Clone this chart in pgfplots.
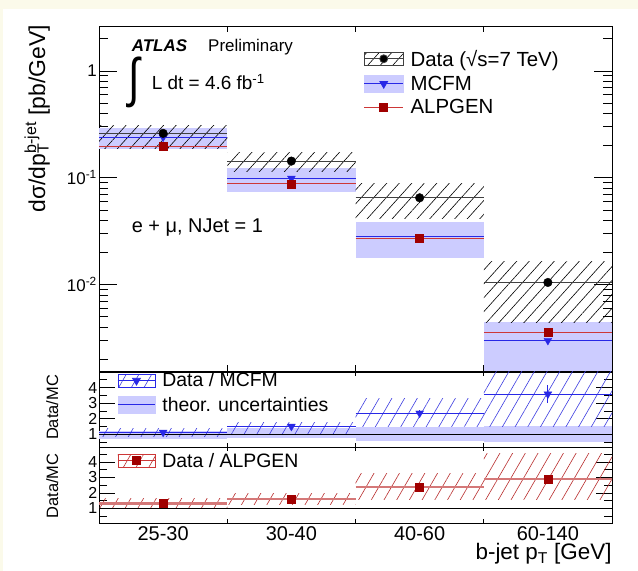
\documentclass[border=0pt]{standalone}
\usepackage{pgfplots}
\pgfplotsset{compat=1.18}
\usetikzlibrary{patterns.meta}
\usepackage{fontspec}
\setmainfont{Liberation Sans}

\definecolor{cream}{RGB}{251,250,234}
\definecolor{band}{RGB}{204,204,255}
\definecolor{mcblue}{RGB}{40,40,230}
\definecolor{alpred}{RGB}{205,55,55}
\definecolor{sqred}{RGB}{160,0,0}
\definecolor{hatchblue}{RGB}{60,60,225}
\definecolor{hatchred}{RGB}{185,45,45}
\definecolor{redband}{RGB}{212,120,120}

\pgfplotsset{
  hatchk/.style={draw=none, pattern={Lines[angle=48,distance=9.3bp,line width=0.6bp]}, pattern color=black},
  hatchb/.style={draw=none, pattern={Lines[angle=60,distance=11bp,line width=0.6bp]}, pattern color=hatchblue},
  hatchr/.style={draw=none, pattern={Lines[angle=60,distance=11bp,line width=0.6bp]}, pattern color=hatchred},
  legdata/.style={legend image code/.code={%
    \fill[pattern={Lines[angle=48,distance=9.3bp,line width=0.6bp]},pattern color=black] (0bp,-6.5bp) rectangle (39bp,6.5bp);
    \draw[##1,mark=none] (0bp,0bp) -- (39bp,0bp);
    \draw[##1,mark repeat=2,mark phase=2] plot coordinates {(0bp,0bp)(19.5bp,0bp)(39bp,0bp)};}},
  legmcfm/.style={legend image code/.code={%
    \fill[band] (0bp,-8.5bp) rectangle (39bp,8.5bp);
    \draw[##1,mark=none] (0bp,0bp) -- (39bp,0bp);
    \draw[##1,mark repeat=2,mark phase=2] plot coordinates {(0bp,0bp)(19.5bp,0bp)(39bp,0bp)};}},
  legline/.style={legend image code/.code={%
    \draw[##1,mark=none] (0bp,0bp) -- (39bp,0bp);
    \draw[##1,mark repeat=2,mark phase=2] plot coordinates {(0bp,0bp)(19.5bp,0bp)(39bp,0bp)};}},
  legrb/.style={legend image code/.code={%
    \fill[pattern={Lines[angle=60,distance=11bp,line width=0.6bp]},pattern color=hatchblue] (0bp,-6.5bp) rectangle (37bp,6.5bp);
    \draw[##1,mark=none] (0bp,0bp) -- (37bp,0bp);
    \draw[##1,mark repeat=2,mark phase=2] plot coordinates {(0bp,0bp)(18.5bp,0bp)(37bp,0bp)};}},
  legrr/.style={legend image code/.code={%
    \fill[pattern={Lines[angle=60,distance=11bp,line width=0.6bp]},pattern color=hatchred] (0bp,-6.5bp) rectangle (37bp,6.5bp);
    \draw[##1,mark=none] (0bp,0bp) -- (37bp,0bp);
    \draw[##1,mark repeat=2,mark phase=2] plot coordinates {(0bp,0bp)(18.5bp,0bp)(37bp,0bp)};}},
  legtheo/.style={legend image code/.code={%
    \fill[band] (0bp,-8.5bp) rectangle (37bp,8.5bp);
    \draw[##1] (0bp,0bp) -- (37bp,0bp);}},
  common/.style={
    scale only axis, anchor=south west, width=513bp,
    xmin=-0.5, xmax=3.5,
    tick align=inside,
    tick style={black, line width=0.6bp},
    axis line style={line width=0.8bp},
    unbounded coords=jump,
    /pgf/number format/assume math mode=true,
  },
}

\begin{document}
\begin{tikzpicture}[x=1bp,y=1bp]
\useasboundingbox (0,0) rectangle (638,571);
\fill[cream] (0,0) rectangle (638,571);
\fill[white] (3,0) rectangle (638,562);

% ---------------- main panel ----------------
\begin{axis}[common,
  at={(99bp,200bp)}, height=344.5bp,
  ymode=log, ymin=1.55e-3, ymax=2.6,
  xtick={0.5,1.5,2.5}, xticklabels={},
  xtick style={/pgfplots/major tick length=6bp},
  ytick={0.01,0.1,1},
  yticklabels={10\textsuperscript{-2},10\textsuperscript{-1},1},
  minor ytick={0.002,0.003,0.004,0.005,0.006,0.007,0.008,0.009,0.02,0.03,0.04,0.05,0.06,0.07,0.08,0.09,0.2,0.3,0.4,0.5,0.6,0.7,0.8,0.9,2},
  ytick style={/pgfplots/major tick length=18bp,/pgfplots/minor tick length=9bp},
  yticklabel style={font=\fontsize{17}{20}\selectfont, inner sep=2bp},
  legend style={draw=none, fill=none, at={(rel axis cs:0.51,0.944)}, anchor=north west,
    font=\fontsize{20.5}{24}\selectfont, row sep=4.2bp,
    /tikz/every odd column/.append style={column sep=5bp}},
  legend cell align=left,
]
% MCFM band
\addplot[fill=band, draw=none, forget plot] coordinates {(-0.5,0.184)(0.5,0.184)(0.5,0.29)(-0.5,0.29)} -- cycle;
\addplot[fill=band, draw=none, forget plot] coordinates {(0.5,0.0728)(1.5,0.0728)(1.5,0.124)(0.5,0.124)} -- cycle;
\addplot[fill=band, draw=none, forget plot] coordinates {(1.5,0.0177)(2.5,0.0177)(2.5,0.0383)(1.5,0.0383)} -- cycle;
\addplot[fill=band, draw=none, forget plot] coordinates {(2.5,0.0008)(3.5,0.0008)(3.5,0.00449)(2.5,0.00449)} -- cycle;
% data hatch
\addplot[hatchk, forget plot] coordinates {(-0.5,0.188)(0.5,0.188)(0.5,0.311)(-0.5,0.311)} -- cycle;
\addplot[hatchk, forget plot] coordinates {(0.5,0.115)(1.5,0.115)(1.5,0.171)(0.5,0.171)} -- cycle;
\addplot[hatchk, forget plot] coordinates {(1.5,0.0415)(2.5,0.0415)(2.5,0.0883)(1.5,0.0883)} -- cycle;
\addplot[hatchk, forget plot] coordinates {(2.5,0.00445)(3.5,0.00445)(3.5,0.01626)(2.5,0.01626)} -- cycle;
% lines
\addplot[mcblue, line width=0.8bp, forget plot] coordinates {(-0.5,0.239)(0.5,0.239)(0.5,nan)(0.5,0.0985)(1.5,0.0985)(1.5,nan)(1.5,0.0279)(2.5,0.0279)(2.5,nan)(2.5,0.00299)(3.5,0.00299)};
\addplot[alpred, line width=0.8bp, forget plot] coordinates {(-0.5,0.197)(0.5,0.197)(0.5,nan)(0.5,0.0877)(1.5,0.0877)(1.5,nan)(1.5,0.0271)(2.5,0.0271)(2.5,nan)(2.5,0.00356)(3.5,0.00356)};
\addplot[black!75, line width=0.8bp, forget plot] coordinates {(-0.5,0.26)(0.5,0.26)(0.5,nan)(0.5,0.143)(1.5,0.143)(1.5,nan)(1.5,0.0648)(2.5,0.0648)(2.5,nan)(2.5,0.01045)(3.5,0.01045)};
% markers
\addplot[only marks, mark=triangle*, mark size=4.5bp, mark options={rotate=180, fill=mcblue, draw=mcblue}, forget plot] coordinates {(0,0.239)(1,0.0985)(2,0.0279)(3,0.00299)};
\addplot[only marks, mark=square*, mark size=4bp, mark options={fill=sqred, draw=sqred}, forget plot] coordinates {(0,0.197)(1,0.0877)(2,0.0271)(3,0.00356)};
\addplot[only marks, mark=*, mark size=4.3bp, mark options={fill=black, draw=black}, forget plot] coordinates {(0,0.26)(1,0.143)(2,0.0648)(3,0.01045)};
% legend
\addlegendimage{legdata, black!75, line width=0.8bp, mark=*, mark size=4bp, mark options={fill=black}}
\addlegendentry{Data (√s=7 TeV)}
\addlegendimage{legmcfm, mcblue, line width=0.8bp, mark=triangle*, mark size=4.5bp, mark options={rotate=180, fill=mcblue}}
\addlegendentry{MCFM}
\addlegendimage{legline, alpred, line width=0.8bp, mark=square*, mark size=4bp, mark options={fill=sqred, draw=sqred}}
\addlegendentry{ALPGEN}
\end{axis}

% ---------------- ratio Data/MCFM ----------------
\begin{axis}[common,
  at={(99bp,123.7bp)}, height=75.3bp,
  ymin=0.16, ymax=5.0,
  xtick={0.5,1.5,2.5}, xticklabels={},
  xtick style={/pgfplots/major tick length=4bp},
  ytick={1,2,3,4}, minor ytick={0.5,1.5,2.5,3.5,4.5},
  ytick style={/pgfplots/major tick length=16bp,/pgfplots/minor tick length=8bp},
  yticklabel style={font=\fontsize{16}{19}\selectfont, inner sep=1.5bp},
  legend style={draw=none, fill=none, at={(rel axis cs:0.03,1.045)}, anchor=north west,
    font=\fontsize{19.5}{23}\selectfont, row sep=4.6bp,
    /tikz/every odd column/.append style={column sep=5bp}},
  legend cell align=left,
]
\addplot[fill=band, draw=none, forget plot] coordinates {(-0.5,0.72)(0.5,0.72)(0.5,1.21)(-0.5,1.21)} -- cycle;
\addplot[fill=band, draw=none, forget plot] coordinates {(0.5,0.75)(1.5,0.75)(1.5,1.39)(0.5,1.39)} -- cycle;
\addplot[fill=band, draw=none, forget plot] coordinates {(1.5,0.57)(2.5,0.57)(2.5,1.49)(1.5,1.49)} -- cycle;
\addplot[fill=band, draw=none, forget plot] coordinates {(2.5,0.48)(3.5,0.48)(3.5,1.56)(2.5,1.56)} -- cycle;
\addplot[hatchb, forget plot] coordinates {(-0.5,0.84)(0.5,0.84)(0.5,1.39)(-0.5,1.39)} -- cycle;
\addplot[hatchb, forget plot] coordinates {(0.5,1.0)(1.5,1.0)(1.5,1.77)(0.5,1.77)} -- cycle;
\addplot[hatchb, forget plot] coordinates {(1.5,1.49)(2.5,1.49)(2.5,3.32)(1.5,3.32)} -- cycle;
\addplot[hatchb, forget plot] coordinates {(2.5,1.49)(3.5,1.49)(3.5,6)(2.5,6)} -- cycle;
\addplot[black, line width=0.7bp, forget plot] coordinates {(-0.5,1)(3.5,1)};
\addplot[mcblue, line width=0.8bp, forget plot] coordinates {(-0.5,1.12)(0.5,1.12)(0.5,nan)(0.5,1.5)(1.5,1.5)(1.5,nan)(1.5,2.35)(2.5,2.35)(2.5,nan)(2.5,3.58)(3.5,3.58)};
\addplot[forget plot, only marks, mark=triangle*, mark size=4.5bp, mark options={rotate=180, fill=mcblue, draw=mcblue}, mcblue,
  error bars/.cd, y dir=both, y explicit, error bar style={mcblue, line width=0.8bp}, error mark=none]
  coordinates {(0,1.12)+-(0,0.05)(1,1.5)+-(0,0.08)(2,2.35)+-(0,0.2)(3,3.58)+-(0,0.6)};
\addlegendimage{legrb, mcblue, line width=0.8bp, mark=triangle*, mark size=4.5bp, mark options={rotate=180, fill=mcblue}}
\addlegendentry{Data / MCFM}
\addlegendimage{legtheo, mcblue, line width=0.8bp}
\addlegendentry{theor. uncertainties}
\end{axis}

% ---------------- ratio Data/ALPGEN ----------------
\begin{axis}[common,
  at={(99bp,47.7bp)}, height=76bp,
  ymin=0.03, ymax=4.94,
  xtick={0,1,2,3}, xticklabels={25-30,30-40,40-60,60-140},
  xtick style={/pgfplots/major tick length=0bp, /pgfplots/minor tick length=4bp},
  minor xtick={0.5,1.5,2.5},
  xticklabel style={font=\fontsize{20}{24}\selectfont, inner sep=1bp, yshift=-2bp},
  ytick={1,2,3,4}, minor ytick={0.5,1.5,2.5,3.5,4.5},
  ytick style={/pgfplots/major tick length=16bp,/pgfplots/minor tick length=8bp},
  yticklabel style={font=\fontsize{16}{19}\selectfont, inner sep=1.5bp},
  legend style={draw=none, fill=none, at={(rel axis cs:0.03,0.98)}, anchor=north west,
    font=\fontsize{19.5}{23}\selectfont, row sep=0bp,
    /tikz/every odd column/.append style={column sep=5bp}},
  legend cell align=left,
]
\addplot[hatchr, forget plot] coordinates {(-0.5,1.0)(0.5,1.0)(0.5,1.65)(-0.5,1.65)} -- cycle;
\addplot[hatchr, forget plot] coordinates {(0.5,1.26)(1.5,1.26)(1.5,1.97)(0.5,1.97)} -- cycle;
\addplot[hatchr, forget plot] coordinates {(1.5,1.54)(2.5,1.54)(2.5,3.27)(1.5,3.27)} -- cycle;
\addplot[hatchr, forget plot] coordinates {(2.5,1.54)(3.5,1.54)(3.5,4.55)(2.5,4.55)} -- cycle;
\addplot[black, line width=0.7bp, forget plot] coordinates {(-0.5,1)(3.5,1)};
\addplot[redband, line width=2.5bp, forget plot] coordinates {(-0.5,1.32)(0.5,1.32)(0.5,nan)(0.5,1.6)(1.5,1.6)(1.5,nan)(1.5,2.39)(2.5,2.39)(2.5,nan)(2.5,2.89)(3.5,2.89)};
\addplot[only marks, mark=square*, mark size=4bp, mark options={fill=sqred, draw=sqred}, forget plot] coordinates {(0,1.32)(1,1.6)(2,2.39)(3,2.89)};
\addlegendimage{legrr, alpred, line width=0.8bp, mark=square*, mark size=4bp, mark options={fill=sqred, draw=sqred}}
\addlegendentry{Data / ALPGEN}
\end{axis}

% ---------------- texts ----------------
\node[anchor=base west, inner sep=0, font=\fontsize{17}{20}\selectfont\bfseries\itshape] at (131.7,519.3) {ATLAS};
\node[anchor=base west, inner sep=0, font=\fontsize{17}{20}\selectfont] at (208,519.3) {Preliminary};
\node[anchor=base west, inner sep=0, font=\fontsize{38}{40}\selectfont] at (128,474.5) {\scalebox{1.1}[1.42]{∫}};
\node[anchor=base west, inner sep=0, font=\fontsize{19}{22}\selectfont] at (151.7,481) {L dt = 4.6 fb\textsuperscript{-1}};
\node[anchor=base west, inner sep=0, font=\fontsize{20}{23}\selectfont] at (131.7,338.7) {e + μ, NJet = 1};
\node[anchor=base east, inner sep=0, font=\fontsize{22.5}{26}\selectfont] at (611.7,11) {b-jet p\textsubscript{T} [GeV]};
\node[rotate=90, anchor=base east, inner sep=0, font=\fontsize{23}{26}\selectfont] at (45,546) {dσ/dp\rlap{\textsubscript{T}}\textsuperscript{b-jet} [pb/GeV]};
\node[rotate=90, anchor=base, inner sep=0, font=\fontsize{16.5}{20}\selectfont] at (58,163.5) {Data/MC};
\node[rotate=90, anchor=base, inner sep=0, font=\fontsize{16.5}{20}\selectfont] at (58,85) {Data/MC};
\end{tikzpicture}
\end{document}
